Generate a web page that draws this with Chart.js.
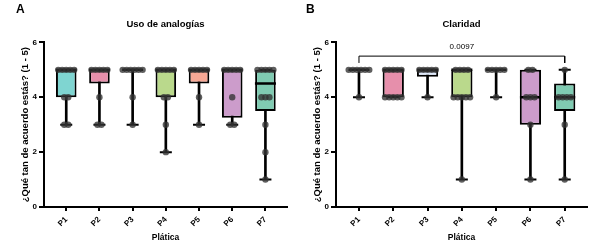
<!DOCTYPE html>
<html>
<head>
<meta charset="utf-8">
<script src="https://cdn.jsdelivr.net/npm/chart.js@4"></script>
<style>
  body { margin: 0; background: #fff; }
  .panel { position: absolute; top: 0; height: 251px; }
</style>
</head>
<body>
<div class="panel" style="left:0;width:300px"><canvas id="chartA"></canvas></div>
<div class="panel" style="left:300px;width:305px"><canvas id="chartB"></canvas></div>
<script>
// Categorías (pláticas)
const categories = ['P1', 'P2', 'P3', 'P4', 'P5', 'P6', 'P7'];
const yTicks = [0, 2, 4, 6];

// Uso de analogías: caja y bigotes
const usoMin    = [3, 3, 3, 2, 3, 3, 1];
const usoQ1     = [4, 4.5, 5, 4, 4.5, 3.25, 3.5];
const usoMedian = [5, 5, 5, 5, 5, 5, 4.5];
const usoQ3     = [5, 5, 5, 5, 5, 5, 5];
const usoMax    = [5, 5, 5, 5, 5, 5, 5];
// Respuestas individuales
const usoDots = [
    [5, 5, 5, 5, 5, 4, 4, 3, 3],
    [5, 5, 5, 5, 5, 4, 3, 3],
    [5, 5, 5, 5, 5, 5, 4, 3],
    [5, 5, 5, 5, 5, 4, 4, 3, 2],
    [5, 5, 5, 5, 5, 4, 3],
    [5, 5, 5, 5, 5, 4, 3, 3],
    [5, 5, 5, 5, 5, 4, 4, 4, 3, 2, 1]
];
const usoColors = ['#7fd5d1', '#e68fab', '#7fd5d1', '#bad98c', '#f7a895', '#cc9ccb', '#80cbb2'];

// Claridad
const clarMin    = [4, 4, 4, 1, 4, 1, 1];
const clarQ1     = [5, 4, 4.75, 4, 5, 3, 3.5];
const clarMedian = [5, 5, 5, 5, 5, 4, 4];
const clarQ3     = [5, 5, 5, 5, 5, 5, 4.5];
const clarMax    = [5, 5, 5, 5, 5, 5, 5];
const clarDots = [
    [5, 5, 5, 5, 5, 5, 4],
    [5, 5, 5, 5, 5, 4, 4, 4, 4, 4],
    [5, 5, 5, 5, 5, 4],
    [5, 5, 5, 5, 4, 4, 4, 4, 4, 1],
    [5, 5, 5, 5, 5, 4],
    [5, 5, 4, 4, 4, 3, 1],
    [5, 4, 4, 4, 4, 3, 1]
];
const clarColors = ['#7fd5d1', '#e68fab', '#dde7f8', '#bad98c', '#f7a895', '#cc9ccb', '#80cbb2'];

// Comparación P1 vs P7
const pairFrom = 1, pairTo = 7;
const pairLevel = 5.5, pairTip = 5.25;
const pValue = '0.0097';

const FONT = "'Liberation Sans', Arial, sans-serif";

// puntos repetidos se reparten a lo ancho
function dotPoints(lists) {
    const pts = [];
    lists.forEach((vals, i) => {
        const counts = {};
        vals.forEach(v => counts[v] = (counts[v] || 0) + 1);
        Object.keys(counts).forEach(k => {
            const n = counts[k];
            for (let j = 0; j < n; j++) {
                pts.push({ x: i + 1 + (j - (n - 1) / 2) * 0.12, y: +k });
            }
        });
    });
    return pts;
}

const panelText = {
    id: 'panelText',
    afterDraw(chart, args, opts) {
        const ctx = chart.ctx;
        ctx.save();
        ctx.fillStyle = '#000';
        ctx.textBaseline = 'middle';
        ctx.font = 'bold 12px ' + FONT;
        ctx.fillText(opts.letter, opts.letterX, 10);
        if (opts.p) {
            const xs = chart.scales.x, ys = chart.scales.y;
            ctx.font = '8px ' + FONT;
            ctx.textAlign = 'center';
            ctx.fillText(opts.p, (xs.getPixelForValue(pairFrom) + xs.getPixelForValue(pairTo)) / 2,
                ys.getPixelForValue(pairLevel) - 9);
        }
        ctx.restore();
    }
};

function makeChart(id, cfg) {
    const datasets = [
        {
            type: 'scatter',
            data: dotPoints(cfg.dots),
            pointRadius: 3.2,
            pointBackgroundColor: 'rgba(50,50,50,0.78)',
            pointBorderWidth: 0
        },
        {
            type: 'scatter',
            data: categories.map((c, i) => ({ x: i + 1, y: cfg.median[i] })),
            pointStyle: 'line',
            pointRadius: 10.5,
            pointBorderWidth: 2.5,
            pointBorderColor: '#000'
        },
        {
            type: 'scatter',
            data: categories.flatMap((c, i) => [{ x: i + 1, y: cfg.min[i] }, { x: i + 1, y: cfg.max[i] }]),
            pointStyle: 'line',
            pointRadius: 6,
            pointBorderWidth: 2,
            pointBorderColor: '#000'
        },
        {
            type: 'bar',
            data: categories.map((c, i) => ({ x: i + 1, y: [cfg.q1[i], cfg.q3[i]] })),
            backgroundColor: cfg.colors,
            borderColor: '#000',
            borderWidth: 2,
            borderSkipped: false,
            grouped: false,
            barPercentage: 0.62,
            categoryPercentage: 1
        },
        {
            type: 'bar',
            data: categories.map((c, i) => ({ x: i + 1, y: [cfg.min[i], cfg.max[i]] })),
            backgroundColor: '#000',
            borderWidth: 0,
            grouped: false,
            barThickness: 2
        }
    ];
    if (cfg.pair) {
        datasets.splice(1, 0, {
            type: 'line',
            data: [{ x: pairFrom, y: pairTip }, { x: pairFrom, y: pairLevel },
                   { x: pairTo, y: pairLevel }, { x: pairTo, y: pairTip }],
            borderColor: '#000',
            borderWidth: 1,
            pointRadius: 0,
            fill: false
        });
    }

    return new Chart(document.getElementById(id).getContext('2d'), {
        type: 'scatter',
        data: { datasets },
        plugins: [panelText],
        options: {
            responsive: true,
            maintainAspectRatio: false,
            animation: false,
            layout: { padding: { left: 0, right: cfg.padRight, top: 0, bottom: 0 } },
            plugins: {
                legend: { display: false },
                tooltip: { enabled: false },
                title: {
                    display: true,
                    fullSize: false,
                    text: cfg.title,
                    color: '#000',
                    font: { family: FONT, size: 9.5, weight: 'bold' },
                    padding: { top: 19, bottom: 12 }
                },
                panelText: { letter: cfg.letter, letterX: cfg.letterX, p: cfg.pair ? pValue : null }
            },
            scales: {
                x: {
                    type: 'linear',
                    min: 0.33,
                    max: 7.65,
                    offset: false,
                    afterBuildTicks: s => { s.ticks = categories.map((c, i) => ({ value: i + 1 })); },
                    afterFit: s => { s.height = 44; },
                    ticks: {
                        callback: v => categories[v - 1],
                        minRotation: 45,
                        maxRotation: 45,
                        color: '#000',
                        padding: 4,
                        font: { family: FONT, size: 8, weight: 'bold' }
                    },
                    grid: { offset: false, drawOnChartArea: false, drawTicks: true, tickLength: 4, color: '#000', lineWidth: 2 },
                    border: { display: true, color: '#000', width: 2 },
                    title: {
                        display: true,
                        text: 'Plática',
                        color: '#000',
                        font: { family: FONT, size: 8.5, weight: 'bold' },
                        padding: { top: 0, bottom: 8 }
                    }
                },
                y: {
                    min: 0,
                    max: 6,
                    afterBuildTicks: s => { s.ticks = yTicks.map(v => ({ value: v })); },
                    afterFit: s => { s.width = cfg.yWidth; },
                    ticks: {
                        color: '#000',
                        padding: 2,
                        font: { family: FONT, size: 8, weight: 'bold' }
                    },
                    grid: { drawOnChartArea: false, drawTicks: true, tickLength: 5, color: '#000', lineWidth: 2 },
                    border: { display: true, color: '#000', width: 2 },
                    title: {
                        display: true,
                        text: '¿Qué tan de acuerdo estás? (1 - 5)',
                        color: '#000',
                        font: { family: FONT, size: 9.5, weight: 'bold' },
                        padding: { top: cfg.yTitlePad, bottom: 0 }
                    }
                }
            }
        }
    });
}

const chartA = makeChart('chartA', {
    title: 'Uso de analogías', letter: 'A', letterX: 16,
    min: usoMin, q1: usoQ1, median: usoMedian, q3: usoQ3, max: usoMax,
    dots: usoDots, colors: usoColors,
    yWidth: 44, yTitlePad: 20, padRight: 7, pair: false
});

const chartB = makeChart('chartB', {
    title: 'Claridad', letter: 'B', letterX: 6,
    min: clarMin, q1: clarQ1, median: clarMedian, q3: clarQ3, max: clarMax,
    dots: clarDots, colors: clarColors,
    yWidth: 36, yTitlePad: 12, padRight: 18, pair: true
});
</script>
</body>
</html>
